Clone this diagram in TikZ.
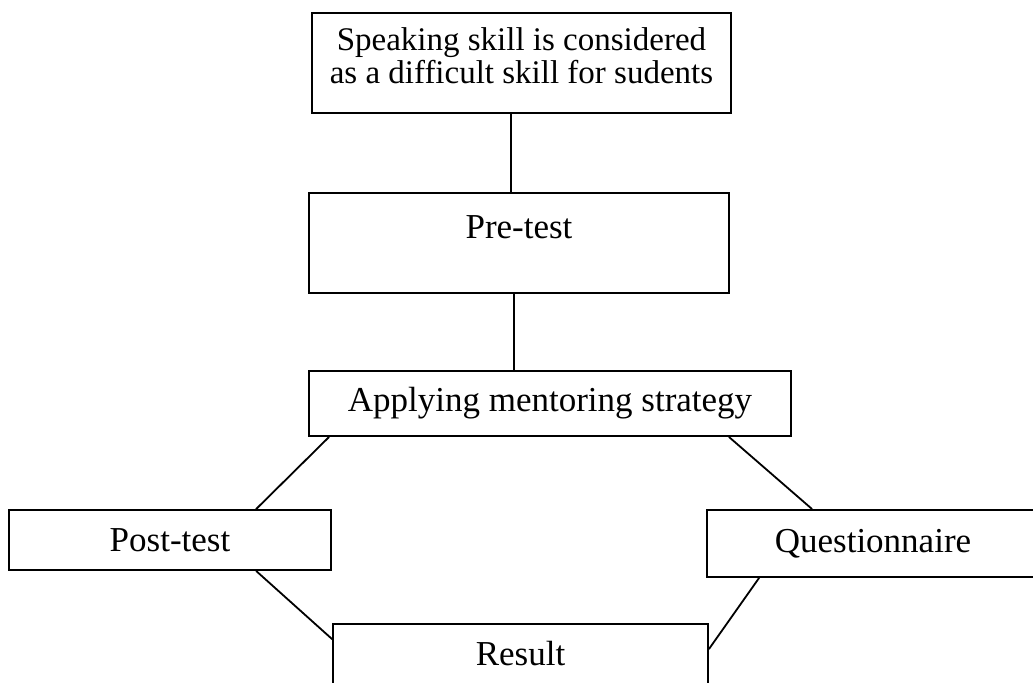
\documentclass[tikz,border=0pt]{standalone}
\usepackage{fontspec}
\setmainfont{Liberation Serif}
\begin{document}
\begin{tikzpicture}[x = 0.5pt, y = -0.5pt, line width = 0.9pt,
    box/.style = {draw, rectangle, inner sep = 0pt, align = center,
      font = \fontsize{17.5}{16.5}\selectfont}]
    \useasboundingbox (0, 0) rectangle (1033, 682);

    \node [box, minimum width = 209.5pt, minimum height = 50pt,
      font = \fontsize{16.5}{16.5}\selectfont] (prob) at (521.5, 63)
      {Speaking skill is considered\\as a difficult skill for sudents\rule[-7pt]{0pt}{7pt}};
    \node [box, minimum width = 210pt, text height = 22.5pt, text depth = 27.5pt] (pre) at (519, 243) {Pre-test};
    \node [box, minimum width = 241pt, minimum height = 32.5pt] (apply) at (550, 403.5) {Applying mentoring strategy};
    \node [box, minimum width = 161pt, minimum height = 30pt] (post) at (170, 540) {Post-test};
    \node [box, minimum width = 166pt, minimum height = 33.5pt] (quest) at (873, 543.5) {Questionnaire};
    \node [box, minimum width = 187.5pt, minimum height = 30pt] (result) at (520.5, 654) {Result};

    \draw ([xshift = 100pt] prob.south west) -- ([xshift = 101.5pt] pre.north west);
    \draw ([xshift = 103pt] pre.south west) -- ([xshift = 103pt] apply.north west);
    \draw ([xshift = 10.5pt] apply.south west) -- ([xshift = 124pt] post.north west);
    \draw ([xshift = -31.5pt] apply.south east) -- ([xshift = 53pt] quest.north west);
    \draw ([xshift = 124pt] post.south west) -- ([yshift = -8pt] result.north west);
    \draw ([xshift = 26.5pt] quest.south west) -- ([yshift = -13pt] result.north east);
  \end{tikzpicture}
\end{document}
